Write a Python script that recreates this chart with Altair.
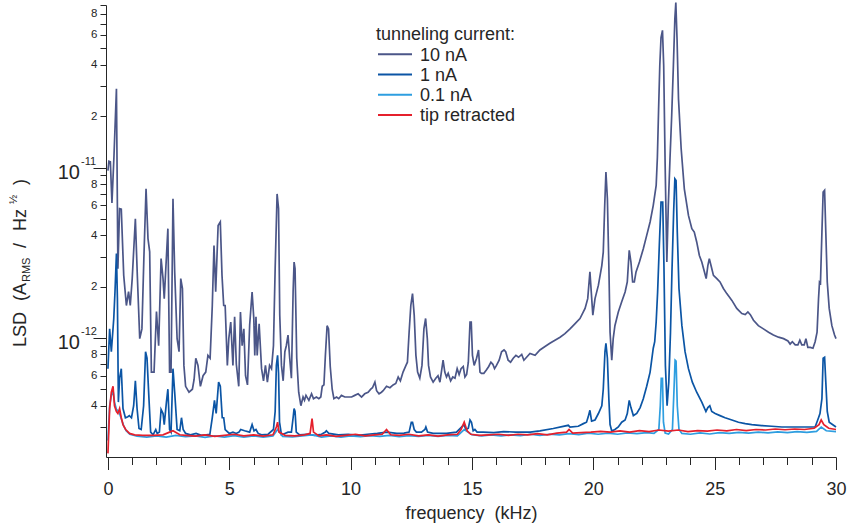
import altair as alt
import pandas as pd

# Linear spectral density of the tunnelling current, frequency in kHz,
# LSD values in units of 1e-12 A_RMS/sqrt(Hz).
F_10NA = [0.00, 0.04, 0.10, 0.165, 0.25, 0.35, 0.41, 0.48, 0.55, 0.65, 0.76, 0.85, 0.92, 1.00, 1.13, 1.21,
          1.31, 1.40, 1.48, 1.57, 1.65, 1.72, 1.79, 1.90, 2.00, 2.09, 2.19, 2.27, 2.32, 2.47, 2.54, 2.60,
          2.68, 2.75, 2.85, 2.93, 3.00, 3.07, 3.13, 3.20, 3.34, 3.48, 3.55, 3.62, 3.71, 3.81, 3.92, 4.03,
          4.12, 4.21, 4.30, 4.37, 4.44, 4.54, 4.63, 4.70, 4.77, 4.83, 4.92, 4.98, 5.06, 5.15, 5.22, 5.29,
          5.39, 5.46, 5.53, 5.60, 5.67, 5.75, 5.84, 5.94, 6.01, 6.05, 6.10, 6.15, 6.23, 6.33, 6.41, 6.49,
          6.57, 6.66, 6.74, 6.82, 6.89, 6.97, 7.03, 7.08, 7.15, 7.22, 7.29, 7.35, 7.42, 7.49, 7.56, 7.63,
          7.67, 7.71, 7.78, 7.86, 7.95, 8.04, 8.10, 8.16, 8.28, 8.39, 8.47, 8.59, 8.69, 8.77, 8.83, 8.90,
          8.96, 9.03, 9.09, 9.16, 9.24, 9.31, 9.42, 9.51, 9.62, 9.76, 9.90, 10.04, 10.17, 10.31, 10.45,
          10.58, 10.72, 10.83, 10.90, 11.00, 11.07, 11.17, 11.27, 11.34, 11.48, 11.62, 11.75, 11.86, 11.96,
          12.05, 12.16, 12.28, 12.34, 12.41, 12.48, 12.55, 12.62, 12.69, 12.76, 12.85, 12.94, 13.02, 13.09,
          13.16, 13.21, 13.29, 13.40, 13.51, 13.60, 13.68, 13.76, 13.81, 13.88, 13.95, 14.02, 14.12, 14.21,
          14.30, 14.39, 14.47, 14.55, 14.64, 14.71, 14.78, 14.85, 14.92, 14.97, 15.02, 15.09, 15.19, 15.27,
          15.33, 15.39, 15.49, 15.60, 15.69, 15.78, 15.86, 15.93, 16.01, 16.12, 16.22, 16.32, 16.39, 16.49,
          16.59, 16.70, 16.81, 16.92, 17.05, 17.14, 17.25, 17.39, 17.60, 17.80, 18.01, 18.21, 18.42, 18.63,
          18.83, 19.04, 19.24, 19.45, 19.66, 19.77, 19.86, 19.98, 20.07, 20.21, 20.35, 20.41, 20.47, 20.52,
          20.58, 20.64, 20.69, 20.76, 20.82, 20.89, 21.03, 21.17, 21.31, 21.40, 21.48, 21.55, 21.62, 21.69,
          21.76, 21.90, 22.06, 22.20, 22.34, 22.47, 22.59, 22.64, 22.69, 22.74, 22.79, 22.85, 22.90, 22.96,
          23.03, 23.09, 23.16, 23.23, 23.30, 23.36, 23.40, 23.45, 23.51, 23.62, 23.75, 23.92, 24.06, 24.16,
          24.26, 24.37, 24.47, 24.58, 24.65, 24.72, 24.78, 24.85, 24.95, 25.09, 25.22, 25.36, 25.50, 25.71,
          25.91, 26.12, 26.26, 26.37, 26.47, 26.60, 26.80, 27.01, 27.22, 27.42, 27.63, 27.84, 28.02, 28.11,
          28.20, 28.32, 28.43, 28.51, 28.59, 28.69, 28.76, 28.84, 28.94, 29.05, 29.14, 29.22, 29.28, 29.32,
          29.36, 29.42, 29.47, 29.53, 29.58, 29.64, 29.72, 29.83, 29.94, 30.00]
LSD_10NA = [9.6, 10.9, 10.8, 6.2, 11.8, 29.0, 2.55, 5.74, 5.7, 2.33, 1.55, 1.87, 1.55, 2.23, 5.0, 2.33,
            0.99, 1.13, 2.92, 7.5, 3.83, 3.2, 0.63, 0.63, 1.43, 0.90, 2.92, 2.23, 1.70, 4.38, 0.63, 0.63,
            6.56, 2.45, 0.99, 0.83, 2.23, 1.95, 0.69, 0.52, 0.48, 0.50, 0.57, 0.76, 0.69, 0.52, 0.60, 0.63,
            0.79, 0.76, 1.55, 3.49, 1.87, 4.57, 4.80, 2.33, 1.55, 1.55, 0.69, 0.99, 1.24, 0.69, 1.33, 0.70,
            0.52, 1.42, 0.90, 1.13, 0.60, 0.53, 1.19, 1.86, 1.30, 0.79, 1.33, 0.79, 1.21, 0.66, 0.56, 0.69,
            0.55, 0.69, 0.66, 0.90, 2.55, 7.0, 5.74, 1.36, 0.69, 0.56, 0.83, 0.90, 1.04, 0.76, 0.58, 1.86,
            2.79, 2.55, 0.76, 0.48, 0.40, 0.45, 0.43, 0.46, 0.43, 0.47, 0.44, 0.45, 0.44, 0.45, 0.52, 0.53,
            0.79, 1.18, 1.13, 0.68, 0.50, 0.44, 0.45, 0.44, 0.46, 0.45, 0.45, 0.45, 0.46, 0.47, 0.45,
            0.47, 0.48, 0.50, 0.51, 0.55, 0.49, 0.47, 0.48, 0.49, 0.52, 0.51, 0.53, 0.54, 0.59,
            0.56, 0.63, 0.69, 0.72, 1.08, 1.55, 1.82, 1.36, 0.79, 0.63, 0.58, 0.69, 1.13, 1.30,
            0.99, 0.69, 0.59, 0.55, 0.58, 0.60, 0.55, 0.66, 0.74, 0.63, 0.59, 0.62, 0.56, 0.59,
            0.58, 0.66, 0.61, 0.66, 0.68, 0.59, 0.61, 0.72, 1.24, 1.24, 0.79, 0.69, 0.76, 0.85,
            0.63, 0.62, 0.62, 0.65, 0.68, 0.72, 0.70, 0.66, 0.69, 0.74, 0.83, 0.85, 0.83, 0.74,
            0.72, 0.76, 0.79, 0.77, 0.80, 0.74, 0.77, 0.81, 0.79, 0.85, 0.89, 0.93, 0.97, 1.01,
            1.06, 1.13, 1.21, 1.30, 1.49, 1.70, 2.44, 1.36, 1.70, 2.04, 2.66, 3.19, 6.0, 9.4,
            6.56, 2.66, 1.08, 0.74, 0.99, 1.18, 1.42, 1.63, 1.86, 2.13, 3.27, 2.79, 2.13, 2.13,
            2.44, 2.79, 3.34, 4.0, 4.79, 6.0, 7.85, 11.5, 22.0, 40.0, 58.0, 63.9, 39.8, 10.3,
            2.79, 6.0, 11.3, 20.2, 39.8, 74.6, 93.0, 57.0, 25.3, 12.9, 7.5, 5.24, 4.38, 4.18,
            3.66, 3.05, 2.79, 2.44, 2.23, 2.66, 2.92, 2.66, 2.33, 2.23, 2.13, 1.95, 1.82, 1.66,
            1.49, 1.39, 1.37, 1.42, 1.37, 1.27, 1.18, 1.13, 1.08, 1.04, 1.01, 0.99, 0.96, 0.92,
            0.95, 0.91, 0.91, 0.97, 0.91, 0.91, 0.99, 0.88, 0.88, 0.87, 0.95, 1.08, 1.70, 2.13,
            2.10, 4.18, 7.18, 7.35, 4.18, 2.13, 1.49, 1.18, 1.04, 0.99]

F_1NA = [0.00, 0.07, 0.14, 0.24, 0.29, 0.35, 0.39, 0.43, 0.48, 0.55, 0.62, 0.72, 0.82, 0.88, 0.97, 1.06,
         1.13, 1.20, 1.28, 1.37, 1.47, 1.55, 1.61, 1.69, 1.76, 1.86, 1.97, 2.03, 2.12, 2.19, 2.27, 2.32,
         2.41, 2.47, 2.54, 2.60, 2.68, 2.75, 2.85, 2.96, 3.03, 3.10, 3.20, 3.40, 3.63, 3.85, 4.05, 4.20,
         4.30, 4.39, 4.46, 4.56, 4.63, 4.71, 4.77, 4.83, 5.00, 5.15, 5.29, 5.40, 5.47, 5.63, 5.84, 5.94,
         6.02, 6.10, 6.19, 6.33, 6.60, 6.82, 6.89, 6.94, 6.99, 7.03, 7.07, 7.15, 7.29, 7.42, 7.56, 7.63,
         7.67, 7.71, 7.76, 7.90, 8.20, 8.50, 8.80, 8.96, 9.00, 9.10, 9.50, 9.90, 10.30, 10.70, 11.10,
         11.50, 11.90, 12.20, 12.41, 12.50, 12.55, 12.62, 12.71, 12.92, 13.06, 13.10, 13.17, 13.40, 13.95,
         14.36, 14.57, 14.67, 14.75, 14.85, 14.92, 14.98, 15.05, 15.12, 15.21, 15.46, 15.90, 16.30, 16.80,
         17.40, 17.80, 18.35, 18.97, 19.04, 19.38, 19.59, 19.72, 19.79, 19.86, 19.93, 20.07, 20.21, 20.35,
         20.41, 20.48, 20.52, 20.58, 20.64, 20.69, 20.76, 20.89, 21.03, 21.17, 21.31, 21.40, 21.48, 21.55,
         21.65, 21.79, 21.93, 22.06, 22.20, 22.34, 22.47, 22.53, 22.59, 22.65, 22.72, 22.79, 22.86, 22.91,
         22.97, 23.04, 23.11, 23.18, 23.24, 23.31, 23.36, 23.41, 23.46, 23.53, 23.65, 23.78, 23.92, 24.08,
         24.26, 24.47, 24.64, 24.72, 24.80, 24.88, 25.02, 25.22, 25.43, 25.71, 25.98, 26.26, 26.53, 26.94,
         27.35, 27.77, 28.32, 28.87, 29.14, 29.28, 29.34, 29.42, 29.47, 29.53, 29.58, 29.64, 29.72, 30.00]
LSD_1NA = [0.66, 1.13, 0.83, 1.30, 1.86, 3.13, 1.70, 0.42, 0.58, 0.66, 0.385, 0.34, 0.345, 0.35, 0.34, 0.40,
           0.56, 0.385, 0.294, 0.29, 0.40, 0.83, 0.76, 0.44, 0.28, 0.27, 0.29, 0.275, 0.28, 0.38, 0.36, 0.31,
           0.42, 0.50, 0.29, 0.28, 0.66, 0.48, 0.29, 0.285, 0.34, 0.29, 0.275, 0.27, 0.275, 0.268, 0.27, 0.272,
           0.34, 0.43, 0.36, 0.55, 0.52, 0.34, 0.34, 0.29, 0.275, 0.28, 0.275, 0.28, 0.29, 0.285, 0.28, 0.31,
           0.285, 0.29, 0.275, 0.27, 0.272, 0.29, 0.37, 0.69, 0.79, 0.62, 0.32, 0.27, 0.275, 0.28, 0.28, 0.34,
           0.385, 0.37, 0.28, 0.27, 0.272, 0.268, 0.272, 0.28, 0.285, 0.275, 0.27, 0.272, 0.268, 0.272, 0.275,
           0.28, 0.275, 0.276, 0.28, 0.32, 0.32, 0.29, 0.28, 0.28, 0.29, 0.30, 0.28, 0.275, 0.275,
           0.28, 0.30, 0.31, 0.29, 0.295, 0.33, 0.32, 0.285, 0.29, 0.28, 0.28, 0.278, 0.282, 0.28,
           0.28, 0.285, 0.294, 0.307, 0.30, 0.303, 0.314, 0.32, 0.344, 0.376, 0.325, 0.33, 0.36, 0.40,
           0.50, 0.83, 0.93, 0.76, 0.44, 0.31, 0.284, 0.29, 0.30, 0.32, 0.33, 0.36, 0.43, 0.39,
           0.35, 0.36, 0.39, 0.44, 0.52, 0.63, 0.87, 0.95, 1.24, 1.86, 3.5, 6.26, 6.26, 2.66,
           0.69, 0.40, 0.55, 1.08, 2.44, 5.48, 8.6, 8.4, 4.18, 1.95, 1.18, 0.83, 0.66, 0.55,
           0.48, 0.42, 0.37, 0.39, 0.40, 0.37, 0.36, 0.35, 0.34, 0.33, 0.32, 0.314, 0.31, 0.306,
           0.303, 0.30, 0.30, 0.30, 0.30, 0.34, 0.36, 0.44, 0.76, 0.77, 0.55, 0.37, 0.32, 0.30]

F_01NA = [0.00, 0.07, 0.14, 0.21, 0.27, 0.35, 0.45, 0.55, 0.65, 0.75, 0.90, 1.20, 1.60, 2.00, 2.40, 2.80,
          3.20, 3.60, 4.00, 4.40, 4.80, 5.20, 5.60, 6.00, 6.40, 6.80, 6.99, 7.20, 7.60, 8.00, 8.40, 8.80,
          9.20, 9.60, 10.00, 10.40, 10.80, 11.20, 11.60, 12.00, 12.40, 12.80, 13.20, 13.60, 14.00, 14.40,
          14.68, 15.00, 15.40, 15.80, 16.20, 16.60, 17.00, 17.40, 17.80, 18.20, 18.60, 19.00, 19.40, 19.80,
          20.20, 20.60, 21.00, 21.40, 21.80, 22.20, 22.50, 22.70, 22.76, 22.80, 22.85, 22.89, 22.96, 23.10,
          23.26, 23.31, 23.37, 23.41, 23.46, 23.53, 23.65, 24.00, 24.40, 24.80, 25.20, 25.60, 26.00, 26.40,
          26.80, 27.20, 27.60, 28.00, 28.40, 28.80, 29.20, 29.39, 29.60, 30.00]
LSD_01NA = [0.25, 0.40, 0.46, 0.49, 0.42, 0.38, 0.37, 0.335, 0.305, 0.285, 0.272, 0.265, 0.262, 0.266, 0.262, 0.268,
            0.263, 0.266, 0.261, 0.266, 0.262, 0.267, 0.262, 0.266, 0.262, 0.266, 0.29, 0.264, 0.262, 0.266, 0.27, 0.262,
            0.266, 0.262, 0.266, 0.263, 0.267, 0.264, 0.268, 0.263, 0.267, 0.264, 0.268, 0.264, 0.268, 0.266,
            0.29, 0.27, 0.266, 0.27, 0.266, 0.27, 0.267, 0.272, 0.268, 0.272, 0.27, 0.274, 0.271, 0.276,
            0.272, 0.276, 0.272, 0.277, 0.274, 0.278, 0.275, 0.29, 0.40, 0.58, 0.58, 0.32, 0.276, 0.273,
            0.29, 0.44, 0.74, 0.73, 0.40, 0.29, 0.275, 0.272, 0.277, 0.273, 0.278, 0.275, 0.279, 0.276,
            0.28, 0.277, 0.281, 0.278, 0.282, 0.279, 0.283, 0.30, 0.285, 0.282]

F_RETR = [0.00, 0.07, 0.14, 0.21, 0.27, 0.35, 0.41, 0.48, 0.55, 0.62, 0.73, 0.89, 1.10, 1.44, 1.86, 2.27,
          2.54, 2.68, 2.96, 3.20, 3.60, 4.00, 4.40, 4.80, 5.20, 5.60, 6.00, 6.40, 6.80, 6.94, 6.99, 7.05,
          7.30, 7.70, 8.10, 8.33, 8.41, 8.47, 8.70, 9.00, 9.40, 9.80, 10.20, 10.60, 11.00, 11.30, 11.48,
          11.65, 12.00, 12.40, 12.80, 13.20, 13.60, 14.00, 14.40, 14.55, 14.68, 14.80, 14.95, 15.30, 15.70,
          16.10, 16.50, 16.90, 17.30, 17.70, 18.10, 18.50, 18.90, 19.00, 19.15, 19.50, 19.90, 20.30, 20.70,
          21.10, 21.50, 21.90, 22.30, 22.70, 23.10, 23.50, 23.90, 24.30, 24.70, 25.10, 25.50, 25.90, 26.30,
          26.70, 27.10, 27.50, 27.90, 28.30, 28.70, 29.10, 29.30, 29.39, 29.50, 29.70, 30.00]
LSD_RETR = [0.21, 0.385, 0.48, 0.52, 0.40, 0.37, 0.36, 0.385, 0.34, 0.31, 0.29, 0.275, 0.27, 0.268, 0.268, 0.27,
            0.28, 0.285, 0.27, 0.268, 0.265, 0.27, 0.264, 0.268, 0.272, 0.266, 0.27, 0.265, 0.27, 0.30, 0.32, 0.28,
            0.268, 0.266, 0.27, 0.275, 0.336, 0.28, 0.266, 0.27, 0.264, 0.268, 0.272, 0.266, 0.27, 0.272, 0.29,
            0.27, 0.268, 0.272, 0.266, 0.27, 0.265, 0.27, 0.272, 0.29, 0.32, 0.285, 0.272, 0.268, 0.27,
            0.272, 0.268, 0.272, 0.27, 0.274, 0.27, 0.276, 0.28, 0.29, 0.276, 0.278, 0.28, 0.283, 0.28,
            0.285, 0.28, 0.286, 0.282, 0.288, 0.284, 0.288, 0.282, 0.286, 0.284, 0.288, 0.285, 0.29, 0.286,
            0.29, 0.288, 0.292, 0.289, 0.292, 0.29, 0.295, 0.31, 0.33, 0.31, 0.295, 0.29]

SERIES = ["10 nA", "1 nA", "0.1 nA", "tip retracted"]
COLORS = ["#4b5688", "#0b55a5", "#2e9ee0", "#e5202c"]
FONT = "Liberation Sans"
INK = "#262626"

# y-axis ticks: every integer multiple within each decade
Y_TICKS = [m * 10.0 ** e for e in (-13, -12, -11) for m in range(1, 10) if 3e-13 <= m * 10.0 ** e <= 9e-11]
X_TICKS = list(range(0, 31))

frames = []
for name, f, v in zip(SERIES, [F_10NA, F_1NA, F_01NA, F_RETR], [LSD_10NA, LSD_1NA, LSD_01NA, LSD_RETR]):
    frames.append(pd.DataFrame({"f": f, "lsd": [x * 1e-12 for x in v], "series": name}))
data = pd.concat(frames, ignore_index=True)

mant = "round(datum.value / pow(10, floor(log(datum.value) / LN10 + 1e-6)))"

x_enc = alt.X("f:Q", scale=alt.Scale(domain=[-0.08, 30], nice=False, zero=False),
              axis=alt.Axis(values=X_TICKS, labelExpr="datum.value % 5 === 0 ? datum.label : ''",
                            tickSize={"condition": {"test": "datum.value % 5 === 0", "value": 12.5}, "value": 7.5},
                            title="frequency\u00a0 (kHz)", titleFontSize=18, titleFontWeight="normal",
                            titleFont=FONT, titleColor=INK, titlePadding=6,
                            labelFontSize=18, labelFont=FONT, labelColor=INK, labelPadding=11,
                            labelFlush=False, labelOverlap=False,
                            domainColor=INK, tickColor=INK, domainWidth=1, tickWidth=1, grid=False))
y_enc = alt.Y("lsd:Q", scale=alt.Scale(type="log", domain=[2e-13, 9e-11], nice=False),
              axis=alt.Axis(values=Y_TICKS, title=None,
                            labelExpr=f"indexof([2, 4, 6, 8], {mant}) >= 0 ? '' + {mant} : ''",
                            tickSize={"condition": {"test": f"{mant} == 1", "value": 13}, "value": 6},
                            labelFontSize=11.5, labelFont=FONT, labelColor=INK, labelPadding=3,
                            labelOverlap=False, labelFlush=False,
                            domainColor=INK, tickColor=INK, domainWidth=1, tickWidth=1, grid=False))

color = alt.Color("series:N", scale=alt.Scale(domain=SERIES, range=COLORS), legend=None)

layers = []
for name in SERIES:
    layers.append(
        alt.Chart(data).transform_filter(alt.datum.series == name)
        .mark_line(strokeWidth=1.7, clip=False)
        .encode(x=x_enc, y=y_enc, color=color, order="f:Q")
    )

# decade labels "10" with their exponents as superscripts
decades = pd.DataFrame({"lsd": [1e-12, 1e-11], "exp": ["-12", "-11"]})
base_lbl = alt.Chart(decades).mark_text(text="10", align="right", baseline="alphabetic", fontSize=20,
                                        font=FONT, color=INK, dy=11).encode(x=alt.value(-26), y=y_enc)
exp_lbl = alt.Chart(decades).mark_text(align="left", baseline="alphabetic", fontSize=11,
                                       font=FONT, color=INK, dy=-3).encode(x=alt.value(-25), y=y_enc,
                                                                           text="exp:N")

one = pd.DataFrame({"k": [0]})


def text_at(txt, px, py, size, angle=0, color=INK):
    return alt.Chart(one).mark_text(text=txt, angle=angle, align="left", baseline="alphabetic",
                                    fontSize=size, font=FONT, color=color).encode(
        x=alt.value(px), y=alt.value(py))


# legend: title, then one stroke sample and label per series
legend_layers = [text_at("tunneling current:", 270, 34.5, 18)]
for i, (name, col) in enumerate(zip(SERIES, COLORS)):
    yl = 49.3 + 20.2 * i
    legend_layers.append(
        alt.Chart(one).mark_rule(strokeWidth=2, color=col).encode(
            x=alt.value(272), x2=alt.value(306), y=alt.value(yl)))
    legend_layers.append(text_at(name, 314, yl + 6.3, 18))

# rotated y-axis title (subscript RMS, superscript 1/2)
title_layers = [
    text_at("LSD", -80, 342, 18, 270),
    text_at("(A", -80, 296, 18, 270),
    text_at("RMS", -76.5, 277, 11, 270),
    text_at("/", -80, 243, 18, 270),
    text_at("Hz", -80, 226, 18, 270),
    text_at("\u00bd", -89, 199, 11, 270),
    text_at(")", -80, 180, 18, 270),
]

chart = alt.layer(*layers, base_lbl, exp_lbl, *legend_layers, *title_layers).properties(
    width=730, height=452,
    padding={"left": 106, "top": 5, "right": 12, "bottom": 71},
    autosize=alt.AutoSizeParams(type="none"),
    background="white",
).configure_view(stroke=None)

chart.save("out.html", embed_options={"renderer": "svg", "actions": False})
